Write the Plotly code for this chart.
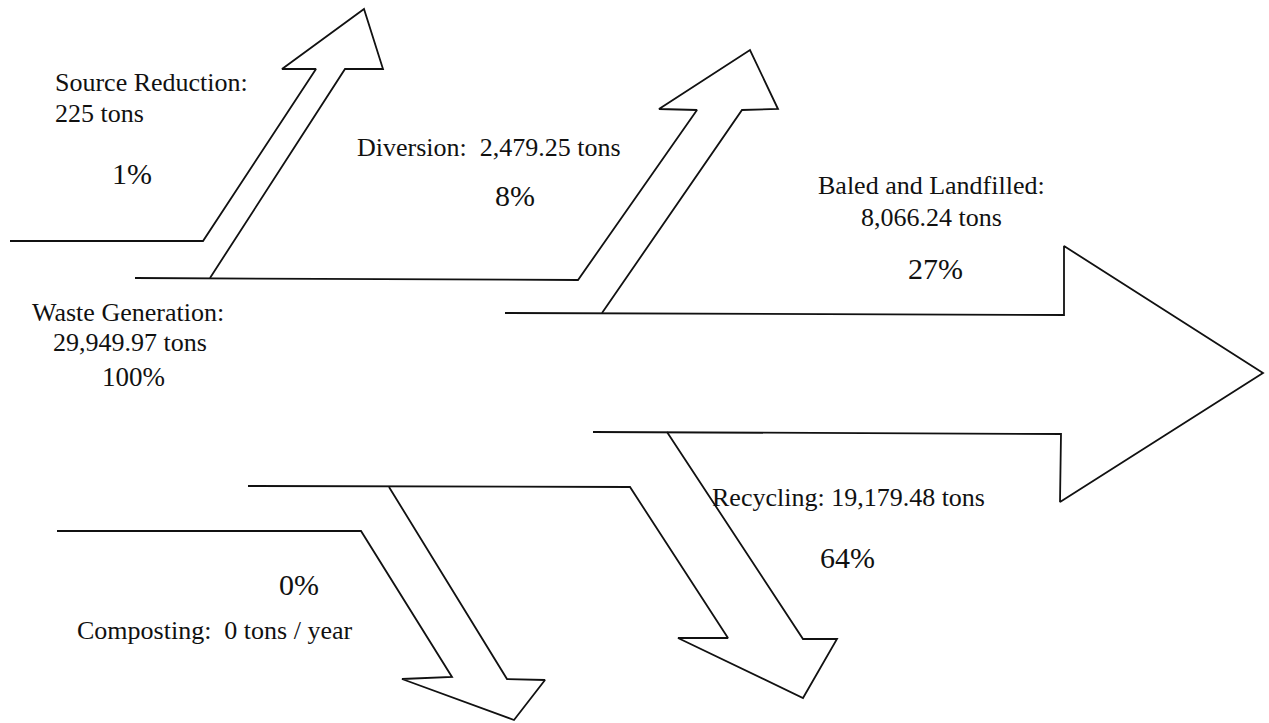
import plotly.graph_objects as go

# ---------------- data ----------------
categories = ["Waste Generation", "Source Reduction", "Diversion",
              "Baled and Landfilled", "Recycling", "Composting"]
tons = [29949.97, 225, 2479.25, 8066.24, 19179.48, 0]
percents = [100, 1, 8, 27, 64, 0]

# ---------------- diagram geometry (pixel space, y downwards) ----------------
W, H = 1269, 723
outlines = {
    "Source Reduction": [(10, 241), (203, 241), (316, 69), (282, 69), (364, 9),
                         (383, 69), (345, 69), (210, 278)],
    "Diversion": [(135, 278), (578, 280), (697, 110), (659, 109), (750, 50),
                  (778, 109), (742, 110), (602, 313)],
    "Baled and Landfilled": [(505, 313), (1064, 315), (1064, 246), (1263, 373),
                             (1060, 502), (1061, 434), (593, 432)],
    "Recycling": [(667, 432), (803, 639), (837, 639), (803, 698), (678, 638),
                  (728, 638), (630, 487), (248, 486)],
    "Composting": [(389, 487), (507, 679), (545, 680), (514, 720), (402, 679),
                   (452, 677), (361, 531), (57, 531)],
}


def fmt(v):
    s = f"{v:,.2f}"
    return s[:-3] if s.endswith(".00") else s


idx = {c: i for i, c in enumerate(categories)}
NB = "\u00a0"

# label layout: (text, x, y, xanchor, size)
labels = []
i = idx["Source Reduction"]
labels += [(f"{categories[i]}:", 53, 82, "left", 26),
           (f"{fmt(tons[i])} tons", 53, 113, "left", 26),
           (f"{percents[i]}%", 132, 173, "center", 30)]
i = idx["Diversion"]
labels += [(f"{categories[i]}:{NB} {fmt(tons[i])} tons", 355, 147, "left", 26),
           (f"{percents[i]}%", 515, 195, "center", 30)]
i = idx["Baled and Landfilled"]
labels += [(f"{categories[i]}:", 931, 185, "center", 26),
           (f"{fmt(tons[i])} tons", 931, 217, "center", 26),
           (f"{percents[i]}%", 935, 268, "center", 30)]
i = idx["Waste Generation"]
labels += [(f"{categories[i]}:", 128, 312, "center", 26),
           (f"{fmt(tons[i])} tons", 130, 342, "center", 26),
           (f"{percents[i]}%", 133, 377, "center", 27)]
i = idx["Recycling"]
labels += [(f"{categories[i]}: {fmt(tons[i])} tons", 710, 497, "left", 26),
           (f"{percents[i]}%", 847, 557, "center", 30)]
i = idx["Composting"]
labels += [(f"{percents[i]}%", 299, 584, "center", 30),
           (f"{categories[i]}:{NB} {fmt(tons[i])} tons / year", 75, 630, "left", 26)]

fig = go.Figure()
for name, pts in outlines.items():
    fig.add_trace(go.Scatter(
        x=[p[0] for p in pts], y=[p[1] for p in pts], mode="lines",
        line=dict(color="#111111", width=1.8), name=name,
        hoverinfo="skip", showlegend=False))

for text, x, y, xa, size in labels:
    fig.add_annotation(x=x, y=y, xref="x", yref="y", text=text, showarrow=False,
                       xanchor=xa, yanchor="middle",
                       font=dict(family="Liberation Serif", size=size, color="#111111"))

fig.update_layout(
    width=W, height=H, autosize=False,
    margin=dict(l=0, r=0, t=0, b=0),
    paper_bgcolor="white", plot_bgcolor="white",
    xaxis=dict(range=[0, W], visible=False, fixedrange=True),
    yaxis=dict(range=[H, 0], visible=False, fixedrange=True),
)

fig.write_html("out.html", config={"displayModeBar": False},
               post_script="document.body.style.margin='0';document.body.style.overflow='hidden';")
